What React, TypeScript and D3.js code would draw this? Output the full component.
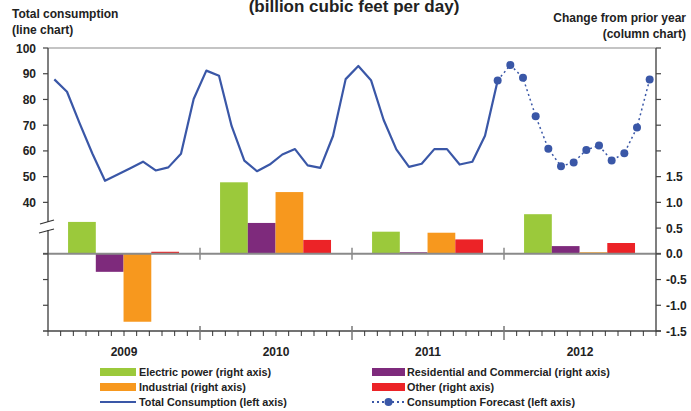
import React from "react";
import * as d3 from "d3";

const years = ["2009", "2010", "2011", "2012"];
const series = ["Electric power", "Residential and Commercial", "Industrial", "Other"];
const seriesColors = ["#9BC93B", "#7E2A7C", "#F7981E", "#EC2327"];
const electric = [0.62, 1.39, 0.43, 0.77];
const residential = [-0.35, 0.6, 0.03, 0.15];
const industrial = [-1.32, 1.2, 0.41, 0.03];
const other = [0.04, 0.27, 0.28, 0.21];

// monthly total consumption Jan 2009 - Dec 2011
const totalConsumption = [
  87.8, 83.0, 70.7, 59.0, 48.4, 50.8, 53.3, 55.8, 52.4, 53.6, 58.9, 80.2,
  91.2, 89.2, 69.6, 56.2, 52.1, 54.7, 58.6, 60.7, 54.4, 53.4, 65.8, 87.9,
  93.0, 87.5, 72.0, 60.6, 53.8, 55.0, 60.7, 60.7, 54.7, 55.8, 65.9, 87.4,
];
// forecast Dec 2011 - Dec 2012
const forecast = [87.4, 93.4, 88.4, 73.5, 60.8, 54.0, 55.5, 60.4, 62.1, 56.3, 59.1, 69.1, 87.8];
const forecastStart = 35;

const leftTicks = [100, 90, 80, 70, 60, 50, 40];
const leftTicksLower = [0, -5, -10];
const rightTickLabels = [1.5, 1.0, 0.5, 0.0, -0.5, -1.0, -1.5];
const rightTicksAll = [4.0, 3.5, 3.0, 2.5, 2.0, 1.5, 1.0, 0.5, 0.0, -0.5, -1.0, -1.5];

const FONT = "'Liberation Sans', Arial, Helvetica, sans-serif";

export default function App() {
  const W = 691, H = 411;
  const x0 = 48, x1 = 656, yTop = 48, yBot = 331;
  const yL = d3.scaleLinear().domain([-10, 100]).range([yBot, yTop]);
  const yR = d3.scaleLinear().domain([-1.5, 4.0]).range([yBot, yTop]);
  const months = d3.range(48);
  const xM = d3.scaleBand<number>().domain(months).range([x0, x1]);
  const xMc = (i: number) => (xM(i) as number) + xM.bandwidth() / 2;
  const xY = d3.scaleBand<string>().domain(years).range([x0, x1]);
  const yw = xY.bandwidth();
  const xS = d3.scaleBand<string>().domain(series).range([yw * 0.132, yw * 0.862]);
  const seriesVals = [electric, residential, industrial, other];
  const zeroY = yR(0);

  const line = d3.line<number>().x((_, i) => xMc(i)).y((d) => yL(d));
  const fLine = d3.line<number>().x((_, i) => xMc(i + forecastStart)).y((d) => yL(d));

  const bold = { fontFamily: FONT, fontWeight: 700 as const, fill: "#222" };

  return (
    <svg width={W} height={H} style={{ position: "absolute", left: 0, top: 0, background: "#fff" }}>
      {/* titles */}
      <text x={354} y={12} textAnchor="middle" style={{ ...bold, fontSize: 17 }}>(billion cubic feet per day)</text>
      <text x={12} y={18} style={{ ...bold, fontSize: 12 }}>Total consumption</text>
      <text x={12} y={34} style={{ ...bold, fontSize: 12 }}>(line chart)</text>
      <text x={686} y={22} textAnchor="end" style={{ ...bold, fontSize: 12 }}>Change from prior year</text>
      <text x={686} y={38} textAnchor="end" style={{ ...bold, fontSize: 12 }}>(column chart)</text>

      {/* top gridline */}
      <line x1={x0} x2={x1} y1={yTop} y2={yTop} stroke="#c4c4c4" strokeWidth={2} />

      {/* bars */}
      {years.map((yr, yi) =>
        series.map((s, si) => {
          const v = seriesVals[si][yi];
          const bx = (xY(yr) as number) + (xS(s) as number);
          const top = v >= 0 ? yR(v) : zeroY;
          const h = Math.abs(yR(v) - zeroY);
          return <rect key={yr + s} x={bx} y={top} width={xS.bandwidth()} height={h} fill={seriesColors[si]} />;
        })
      )}

      {/* zero line */}
      <line x1={43} x2={661} y1={zeroY} y2={zeroY} stroke="#8a8a8a" strokeWidth={2} />
      {years.slice(1).map((yr) => (
        <line key={"zt" + yr} x1={xY(yr) as number} x2={xY(yr) as number} y1={zeroY - 6} y2={zeroY + 6} stroke="#8a8a8a" strokeWidth={1.5} />
      ))}

      {/* left axis */}
      <line x1={x0} x2={x0} y1={yTop} y2={yBot} stroke="#555" strokeWidth={1.5} />
      {leftTicks.map((t) => (
        <g key={"lt" + t}>
          <line x1={x0 - 5} x2={x0} y1={yL(t)} y2={yL(t)} stroke="#444" strokeWidth={1.2} />
          <text x={36} y={yL(t) + 4.5} textAnchor="end" style={{ ...bold, fontSize: 12 }}>{t}</text>
        </g>
      ))}
      {leftTicksLower.map((t) => (
        <line key={"ltl" + t} x1={x0 - 5} x2={x0} y1={yR(t / 10)} y2={yR(t / 10)} stroke="#444" strokeWidth={1.2} />
      ))}
      {/* axis break */}
      <rect x={x0 - 2} y={222} width={4} height={8} fill="#fff" />
      <line x1={40} x2={54} y1={224} y2={220} stroke="#333" strokeWidth={1.2} />
      <line x1={39} x2={54} y1={233} y2={229} stroke="#333" strokeWidth={1.2} />

      {/* right axis */}
      <line x1={x1} x2={x1} y1={yTop} y2={yBot} stroke="#555" strokeWidth={1.5} />
      {rightTicksAll.map((t) => (
        <line key={"rt" + t} x1={x1} x2={x1 + 5} y1={yR(t)} y2={yR(t)} stroke="#444" strokeWidth={1.2} />
      ))}
      {rightTickLabels.map((t) => (
        <text key={"rl" + t} x={666} y={yR(t) + 4.5} style={{ ...bold, fontSize: 12 }}>{t < 0 ? "-" + Math.abs(t).toFixed(1) : t.toFixed(1)}</text>
      ))}

      {/* bottom axis */}
      <line x1={43} x2={661} y1={yBot} y2={yBot} stroke="#444" strokeWidth={1.5} />
      {d3.range(49).map((i) => {
        const xx = x0 + i * xM.bandwidth();
        const isYear = i % 12 === 0 && i > 0 && i < 48;
        return (
          <line key={"mt" + i} x1={xx} x2={xx} y1={isYear ? yBot - 5 : yBot} y2={isYear ? yBot + 9 : yBot + 5} stroke={isYear ? "#777" : "#333"} strokeWidth={isYear ? 1.5 : 1} />
        );
      })}
      {years.map((yr) => (
        <text key={"yl" + yr} x={(xY(yr) as number) + yw / 2} y={356} textAnchor="middle" style={{ ...bold, fontSize: 12 }}>{yr}</text>
      ))}

      {/* lines */}
      <path d={line(totalConsumption) || ""} fill="none" stroke="#3A57A7" strokeWidth={2.2} strokeLinejoin="round" />
      <path d={fLine(forecast) || ""} fill="none" stroke="#3A57A7" strokeWidth={1.5} strokeDasharray="2,3" />
      {forecast.map((v, i) => (
        <circle key={"fd" + i} cx={xMc(i + forecastStart)} cy={yL(v)} r={4} fill="#3A57A7" />
      ))}

      {/* legend */}
      <g style={{ ...bold, fontSize: 10.8 }}>
        <rect x={100} y={368} width={36} height={8} fill={seriesColors[0]} />
        <text x={139} y={376}>Electric power (right axis)</text>
        <rect x={372} y={368} width={33} height={8} fill={seriesColors[1]} />
        <text x={407} y={376}>Residential and Commercial (right axis)</text>
        <rect x={100} y={383} width={36} height={8} fill={seriesColors[2]} />
        <text x={139} y={391}>Industrial (right axis)</text>
        <rect x={372} y={383} width={33} height={8} fill={seriesColors[3]} />
        <text x={407} y={391}>Other (right axis)</text>
        <line x1={100} x2={136} y1={402} y2={402} stroke="#3A57A7" strokeWidth={2.2} />
        <text x={139} y={406}>Total Consumption (left axis)</text>
        <line x1={372} x2={405} y1={402} y2={402} stroke="#3A57A7" strokeWidth={1.8} strokeDasharray="2,3" />
        <circle cx={388.5} cy={402} r={4} fill="#3A57A7" />
        <text x={407} y={406}>Consumption Forecast (left axis)</text>
      </g>
    </svg>
  );
}
